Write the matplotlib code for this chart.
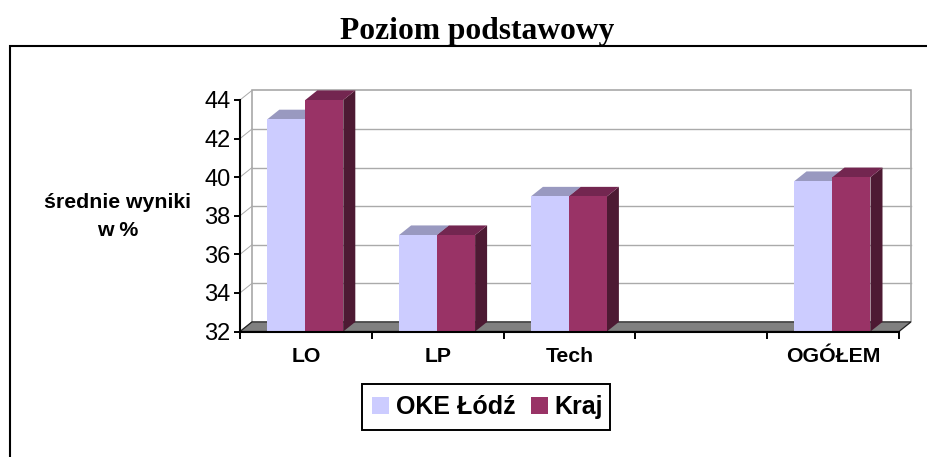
import numpy as np
import matplotlib
matplotlib.use("Agg")
import matplotlib.pyplot as plt
from matplotlib.patches import Polygon, Rectangle, Patch

categories = ["LO", "LP", "Tech", "", "OGÓŁEM"]
oke_lodz = [43.0, 37.0, 39.0, np.nan, 39.8]
kraj = [44.0, 37.0, 39.0, np.nan, 40.0]
series_names = ["OKE Łódź", "Kraj"]
y_ticks = [32, 34, 36, 38, 40, 42, 44]
title = "Poziom podstawowy"
y_label = "średnie wyniki\nw %"

W, H = 928, 457
plt.rcParams['font.family'] = ['Liberation Sans', 'DejaVu Sans']
fig = plt.figure(figsize=(W / 100, H / 100), dpi=100, facecolor='white')

L, R, B, T = 240.0, 899.0, 331.5, 100.0
ax = fig.add_axes([L / W, 1 - B / H, (R - L) / W, (B - T) / H])
ax.set_xlim(0, 5)
ax.set_ylim(32, 44)
ax.patch.set_visible(False)

ux = (R - L) / 5
uy = (B - T) / 12
dx = 12 / ux
dy = 9.6 / uy
bar_w = 38 / ux
bar_shift = -0.6 / ux

# back wall and grid
ax.add_patch(Polygon([(dx, 32 + dy), (dx, 44 + dy), (5 + dx, 44 + dy), (5 + dx, 32 + dy)],
                     closed=False, fill=False, ec='#a0a0a0', lw=1.1, clip_on=False, zorder=1))
for t in y_ticks[1:-1]:
    ax.plot([dx, 5 + dx], [t + dy, t + dy], color='#aaaaaa', lw=1.0, clip_on=False, zorder=1)
for t in y_ticks:
    ax.plot([0, dx], [t, t + dy], color='#aaaaaa', lw=0.7, clip_on=False, zorder=1)

# floor
ax.add_patch(Polygon([(0, 32), (5, 32), (5 + dx, 32 + dy), (dx, 32 + dy)], closed=True,
                     fc='#808080', ec='#222222', lw=0.9, clip_on=False, zorder=2))

# bars
styles = [('#CCCCFF', '#9999C0', '#66667F'), ('#993366', '#732650', '#4D1A33')]
for k, (vals, (front, top, side)) in enumerate(zip([oke_lodz, kraj], styles)):
    for i, v in enumerate(vals):
        if np.isnan(v):
            continue
        x0 = i + 0.5 + bar_shift - bar_w + k * bar_w
        x1 = x0 + bar_w
        ax.add_patch(Polygon([(x1, 32), (x1, v), (x1 + dx, v + dy), (x1 + dx, 32 + dy)],
                             closed=True, fc=side, ec='none', clip_on=False, zorder=3 + k))
        ax.add_patch(Polygon([(x0, v), (x1, v), (x1 + dx, v + dy), (x0 + dx, v + dy)],
                             closed=True, fc=top, ec='none', clip_on=False, zorder=3 + k))
        ax.bar(x0, v - 32, width=bar_w, bottom=32, align='edge', color=front,
               clip_on=False, zorder=3 + k)

# axes
for s in ['top', 'right']:
    ax.spines[s].set_visible(False)
for s in ['left', 'bottom']:
    ax.spines[s].set_linewidth(1.5)
    ax.spines[s].set_zorder(6)
ax.set_yticks(y_ticks)
ax.tick_params(axis='y', which='major', length=4, width=1.4, labelsize=17, pad=3, colors='black')
ax.set_xticks(range(6))
ax.set_xticklabels([])
ax.tick_params(axis='x', which='major', length=5, width=1.4)
ax.set_xticks(np.arange(5) + 0.5, minor=True)
ax.set_xticklabels(categories, minor=True, fontweight='bold', fontsize=15.3)
ax.tick_params(axis='x', which='minor', length=0, pad=11.5)

fig.add_artist(Rectangle((10.5 / W, -0.1), (W + 50) / W, 1.1 - 46.5 / H, transform=fig.transFigure,
                         fill=False, ec='black', lw=1.5, zorder=0))

fig.text(477 / W, 1 - 31 / H, title, family='Liberation Serif', fontweight='bold',
         fontsize=22.7, ha='center', va='center')
fig.text(118 / W, 1 - 216.5 / H, y_label, fontweight='bold', fontsize=15.3, ha='center',
         va='center', linespacing=1.6)

# legend box and entries
fig.add_artist(Rectangle((362 / W, 1 - 430 / H), 248 / W, 46 / H, transform=fig.transFigure,
                         fc='white', ec='black', lw=1.4, zorder=4))
handles = [Patch(fc=styles[0][0], ec='none'), Patch(fc=styles[1][0], ec='none')]
leg = fig.legend(handles, series_names, loc='center', bbox_to_anchor=(487.5 / W, 1 - 407 / H),
                 prop={'weight': 'bold', 'size': 18}, frameon=False,
                 handlelength=0.68, handleheight=0.68, handletextpad=0.28,
                 columnspacing=0.60, ncol=2, borderpad=0.4, borderaxespad=0)
leg.set_zorder(5)

fig.savefig('out.png', dpi=100, facecolor='white')
